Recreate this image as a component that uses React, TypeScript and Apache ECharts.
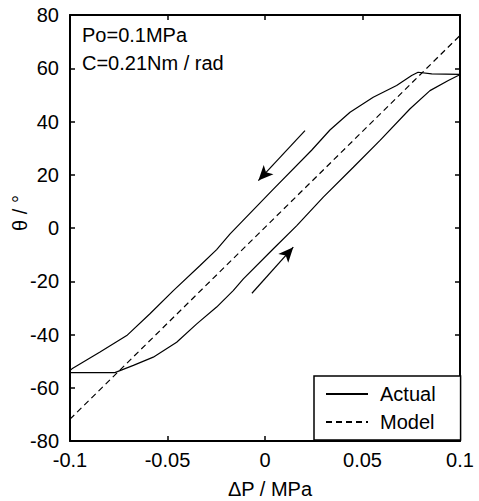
import React, { useEffect, useRef } from "react";
import * as echarts from "echarts";

// ΔP (MPa) / θ (°) readings of the measured hysteresis loop
const actualLower: [number, number][] = [
  [-0.077, -54.3], [-0.0675, -51.6], [-0.0573, -48.5], [-0.0453, -42.9],
  [-0.035, -36.0], [-0.0248, -29.7], [-0.0163, -23.5], [-0.0111, -19.1],
  [0.0043, -7.8], [0.0163, 0.9], [0.0299, 11.6], [0.0453, 22.8],
  [0.059, 32.9], [0.0744, 44.8], [0.0846, 51.6], [0.094, 55.4],
  [0.0991, 57.3], [0.1, 57.7],
];
const actualUpper: [number, number][] = [
  [0.0855, 57.9], [0.0785, 58.5], [0.0752, 57.3], [0.0675, 53.5],
  [0.0555, 49.1], [0.0436, 43.5], [0.0333, 36.8], [0.0239, 29.2],
  [0.0043, 14.6], [-0.0179, -2.2], [-0.0248, -8.1], [-0.0333, -14.1],
  [-0.047, -23.5], [-0.059, -32.2], [-0.0709, -40.4], [-0.0846, -46.6],
  [-0.099, -52.9], [-0.1, -53.5], [-0.1, -54.3], [-0.077, -54.3],
];
const modelLine: [number, number][] = [[-0.1, -71.8], [0.1, 72.3]];

const arrowDown: [number, number][] = [[0.0205, 36.6], [-0.0034, 17.8]];
const arrowUp: [number, number][] = [[-0.0067, -24.5], [0.0145, -7.2]];

const xTicks = { min: -0.1, max: 0.1, interval: 0.05 };
const yTicks = { min: -80, max: 80, interval: 20 };
const legendNames = ["Actual", "Model"];
const annotations = ["Po=0.1MPa", "C=0.21Nm / rad"];
const xName = "ΔP / MPa";
const yName = "θ / °";

const FONT = "Liberation Sans, Arial, sans-serif";

export default function App() {
  const ref = useRef<HTMLDivElement>(null);
  useEffect(() => {
    if (!ref.current) return;
    const chart = echarts.init(ref.current, undefined, { renderer: "svg" });
    const axisLine = { show: true, onZero: false, lineStyle: { color: "#000", width: 2 } };
    const axisTick = { show: true, inside: true, length: 5, lineStyle: { color: "#000", width: 1.5 } };
    const labelStyle = { color: "#000", fontSize: 20, fontFamily: FONT };
    const arrowData = [arrowDown, arrowUp].map((a) => [
      { coord: a[0], symbol: "none" },
      { coord: a[1], symbol: "arrow", symbolSize: [10, 15] },
    ]);
    chart.setOption({
      animation: false,
      backgroundColor: "#fff",
      textStyle: { fontFamily: FONT },
      grid: { left: 70, top: 15, width: 390, height: 426 },
      xAxis: [
        {
          type: "value", position: "bottom", ...xTicks,
          axisLine, axisTick, splitLine: { show: false },
          axisLabel: { ...labelStyle, margin: 9 },
        },
        {
          type: "value", position: "top", ...xTicks,
          axisLine, axisTick, splitLine: { show: false },
          axisLabel: { show: false },
        },
      ],
      yAxis: [
        {
          type: "value", position: "left", ...yTicks,
          axisLine, axisTick, splitLine: { show: false },
          axisLabel: { ...labelStyle, margin: 11 },
        },
        {
          type: "value", position: "right", ...yTicks,
          axisLine, axisTick, splitLine: { show: false },
          axisLabel: { show: false },
        },
      ],
      legend: {
        orient: "vertical",
        left: 314,
        top: 376,
        data: legendNames,
        itemWidth: 42,
        itemHeight: 20,
        itemGap: 8,
        padding: [8, 25, 8, 11],
        backgroundColor: "#fff",
        borderColor: "#000",
        borderWidth: 1.5,
        borderRadius: 0,
        itemStyle: { opacity: 0 },
        textStyle: { color: "#000", fontSize: 20, fontFamily: FONT, padding: [0, 0, 0, 7] },
      },
      graphic: [
        {
          type: "text", left: 82, top: 25, z: 10,
          style: { text: annotations[0], fill: "#000", font: `20px ${FONT}` },
        },
        {
          type: "text", left: 82, top: 53, z: 10,
          style: { text: annotations[1], fill: "#000", font: `20px ${FONT}` },
        },
        {
          type: "text", x: 20, y: 213, rotation: Math.PI / 2, z: 10,
          style: { text: yName, fill: "#000", font: `20px ${FONT}`, align: "center", verticalAlign: "middle" },
        },
        {
          type: "text", x: 270, y: 489, z: 10,
          style: { text: xName, fill: "#000", font: `20px ${FONT}`, align: "center", verticalAlign: "middle" },
        },
      ],
      series: [
        {
          name: legendNames[0],
          type: "line",
          data: [...actualLower, ...actualUpper],
          symbol: "none",
          lineStyle: { color: "#000", width: 1.2 },
          itemStyle: { color: "#000" },
        },
        {
          name: legendNames[1],
          type: "line",
          data: modelLine,
          symbol: "none",
          lineStyle: { color: "#000", width: 1.2, type: [6, 4] },
          itemStyle: { color: "#000" },
        },
        {
          name: "arrows",
          type: "line",
          data: [],
          markLine: {
            silent: true,
            symbolSize: 15,
            label: { show: false },
            lineStyle: { color: "#000", width: 1.2, type: "solid" },
            data: arrowData,
          },
        },
      ],
    });
    return () => chart.dispose();
  }, []);
  return (
    <div
      ref={ref}
      style={{ position: "fixed", left: 0, top: 0, width: 479, height: 501, background: "#fff" }}
    />
  );
}
